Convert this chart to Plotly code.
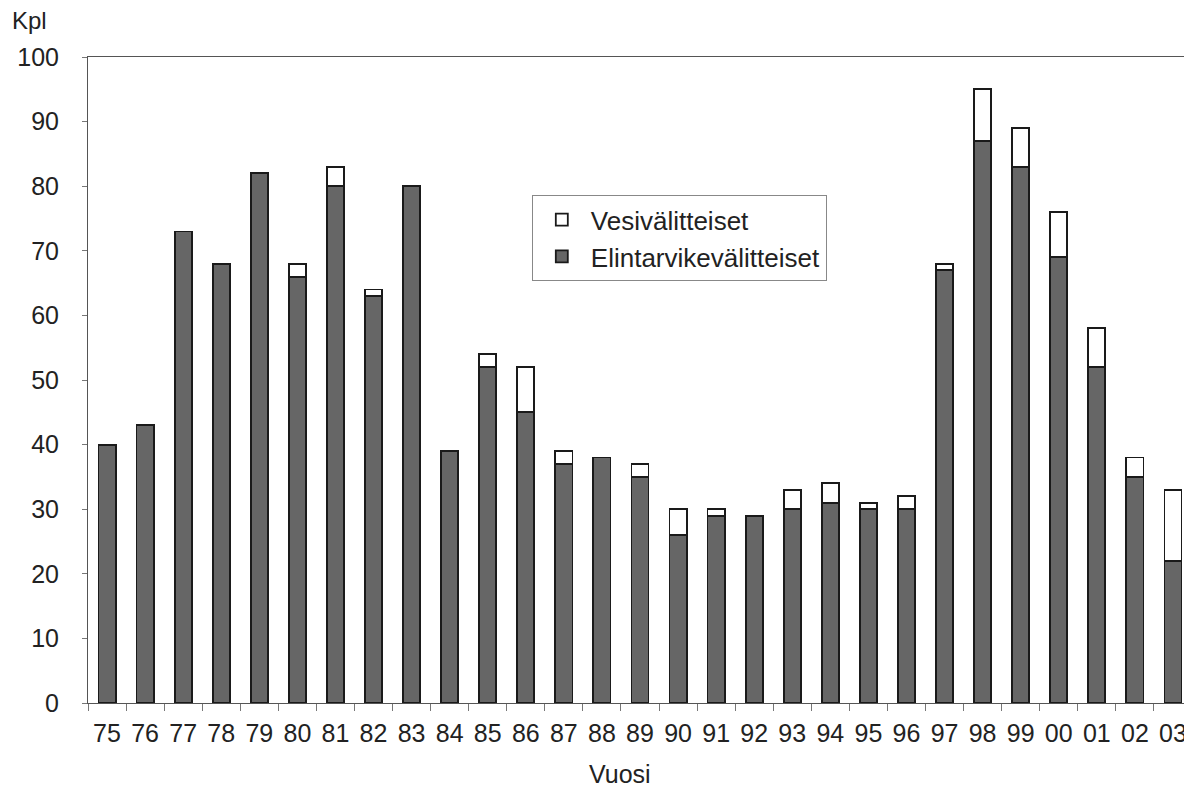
import plotly.graph_objects as go

years = ["75", "76", "77", "78", "79", "80", "81", "82", "83", "84", "85", "86", "87", "88", "89",
         "90", "91", "92", "93", "94", "95", "96", "97", "98", "99", "00", "01", "02", "03"]
elintarvike = [40, 43, 73, 68, 82, 66, 80, 63, 80, 39, 52, 45, 37, 38, 35,
               26, 29, 29, 30, 31, 30, 30, 67, 87, 83, 69, 52, 35, 22]
vesi = [0, 0, 0, 0, 0, 2, 3, 1, 0, 0, 2, 7, 2, 0, 2,
        4, 1, 0, 3, 3, 1, 2, 1, 8, 6, 7, 6, 3, 11]

FONT = "Liberation Sans, Arial, sans-serif"
TXT = "#222222"

fig = go.Figure()
fig.add_trace(go.Bar(
    x=years, y=elintarvike, name="Elintarvikevälitteiset",
    marker=dict(color="#666666", line=dict(color="#1a1a1a", width=1.8)),
))
fig.add_trace(go.Bar(
    x=years, y=vesi, name="Vesivälitteiset",
    marker=dict(color="#ffffff", line=dict(color="#1a1a1a", width=1.8)),
))

fig.update_layout(
    width=1184, height=779,
    barmode="stack", bargap=0.55,
    plot_bgcolor="white", paper_bgcolor="white",
    margin=dict(l=80, r=0, t=49, b=84),
    font=dict(family=FONT, size=25, color=TXT),
    showlegend=True,
    legend=dict(
        x=0.402, y=0.786, xanchor="left", yanchor="top",
        traceorder="reversed",
        bordercolor="#888888", borderwidth=1, bgcolor="white",
        font=dict(family=FONT, size=26, color=TXT),
        itemwidth=48,
    ),
    xaxis=dict(
        type="category", showgrid=False,
        showline=True, linecolor="#555555", linewidth=1, mirror=True,
        ticks="outside", ticklen=7, tickcolor="#777777", tickson="boundaries",
        tickfont=dict(size=25), ticklabelstandoff=8,
    ),
    yaxis=dict(
        range=[0, 100], dtick=10, showgrid=False, zeroline=False,
        showline=True, linecolor="#555555", linewidth=1,
        ticks="outside", ticklen=5, tickcolor="#777777",
        tickfont=dict(size=25), ticklabelstandoff=18,
    ),
    annotations=[
        dict(text="Kpl", xref="paper", yref="paper", x=-0.0707, y=1.057,
             xanchor="left", yanchor="middle", showarrow=False,
             font=dict(family=FONT, size=24, color=TXT)),
        dict(text="Vuosi", xref="paper", yref="paper", x=0.482, y=-0.110,
             xanchor="center", yanchor="middle", showarrow=False,
             font=dict(family=FONT, size=25, color=TXT)),
    ],
)

fig.write_html("out.html")
